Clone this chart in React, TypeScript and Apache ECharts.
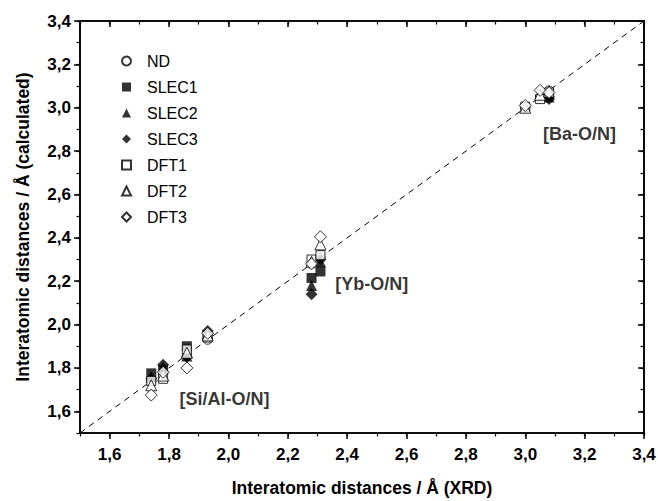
import React, { useEffect, useRef } from "react";
import * as echarts from "echarts";

// Experimental (XRD) distances on x, calculated / measured on y, per method
const ndData: number[][] = [
  [1.74, 1.74], [1.78, 1.78], [1.86, 1.86], [1.93, 1.93],
  [2.28, 2.28], [2.31, 2.31],
  [3.0, 3.0], [3.05, 3.05], [3.08, 3.08],
];
const slec1Data: number[][] = [
  [1.74, 1.775], [1.78, 1.79], [1.86, 1.9], [1.93, 1.95],
  [2.28, 2.215], [2.31, 2.245],
  [3.08, 3.06],
];
const slec2Data: number[][] = [
  [1.74, 1.76], [1.78, 1.805], [1.86, 1.855], [1.93, 1.96],
  [2.28, 2.18], [2.31, 2.29],
  [3.08, 3.05],
];
const slec3Data: number[][] = [
  [1.74, 1.75], [1.78, 1.815], [1.86, 1.85], [1.93, 1.97],
  [2.28, 2.14], [2.31, 2.3],
  [3.08, 3.04],
];
const dft1Data: number[][] = [
  [1.74, 1.74], [1.78, 1.75], [1.86, 1.885], [1.93, 1.94],
  [2.28, 2.3], [2.31, 2.32],
  [3.0, 3.005], [3.05, 3.04], [3.08, 3.07],
];
const dft2Data: number[][] = [
  [1.74, 1.72], [1.78, 1.765], [1.86, 1.87], [1.93, 1.95],
  [2.28, 2.29], [2.31, 2.37],
  [3.0, 3.0], [3.05, 3.06], [3.08, 3.075],
];
const dft3Data: number[][] = [
  [1.74, 1.675], [1.78, 1.78], [1.86, 1.8], [1.93, 1.96],
  [2.28, 2.28], [2.31, 2.405],
  [3.0, 3.01], [3.05, 3.08], [3.08, 3.07],
];

// Bond-type annotations placed in data coordinates
const groupLabels: string[] = ["[Si/Al-O/N]", "[Yb-O/N]", "[Ba-O/N]"];
const groupLabelPos: number[][] = [[1.835, 1.655], [2.36, 2.185], [3.06, 2.88]];

const axisMin = 1.5;
const axisMax = 3.4;
const majorTicks: number[] = [1.6, 1.8, 2.0, 2.2, 2.4, 2.6, 2.8, 3.0, 3.2, 3.4];
const identityLine: number[][] = [[axisMin, axisMin], [axisMax, axisMax]];

const FONT = "'Liberation Sans', Arial, Helvetica, sans-serif";
const fmt = (v: number) => v.toFixed(1).replace(".", ",");

const filled = { color: "#000", borderColor: "#000", borderWidth: 0 };
const open = { color: "#fff", borderColor: "#000", borderWidth: 1 };

export default function App() {
  const ref = useRef<HTMLDivElement>(null);

  useEffect(() => {
    if (!ref.current) return;
    const chart = echarts.init(ref.current, undefined, { renderer: "svg" });

    const gridRect = {
      left: 80,
      right: 14,
      top: 21,
      bottom: 68,
      containLabel: false,
      outerBoundsMode: "none",
    };
    const axisLine = () => ({ show: true, onZero: false, lineStyle: { color: "#000", width: 1.6 } });

    const majorAxis = (position: "bottom" | "top" | "left" | "right", withLabels: boolean, name?: string) => ({
      type: "value",
      gridIndex: 0,
      position,
      min: axisMin,
      max: axisMax,
      splitLine: { show: false },
      axisLine: axisLine(),
      axisTick: {
        show: true,
        inside: !withLabels,
        length: 6,
        customValues: majorTicks,
        lineStyle: { color: "#000", width: 1.5 },
      },
      axisLabel: {
        show: withLabels,
        customValues: majorTicks,
        formatter: (v: number) => fmt(v),
        color: "#000",
        fontFamily: FONT,
        fontWeight: "bold",
        fontSize: 17,
        margin: position === "left" ? 9 : 13,
      },
      name: name || "",
      nameLocation: "middle",
      nameGap: position === "left" ? 48 : 46,
      nameTextStyle: {
        color: "#000",
        fontFamily: FONT,
        fontWeight: "bold",
        fontSize: 17.5,
      },
    });

    const minorAxis = (position: "bottom" | "top" | "left" | "right", inside: boolean) => ({
      type: "value",
      gridIndex: 1,
      position,
      min: axisMin,
      max: axisMax,
      interval: 0.1,
      splitLine: { show: false },
      axisLine: { show: false, onZero: false },
      axisTick: { show: true, inside, length: 3.5, lineStyle: { color: "#000", width: 1.2 } },
      axisLabel: { show: false },
    });

    const scatter = (name: string, symbol: string, size: number, style: any, data: number[][]) => ({
      name,
      type: "scatter",
      symbol,
      symbolSize: size,
      itemStyle: style,
      data,
      z: 3,
    });

    chart.setOption({
      animation: false,
      backgroundColor: "#fff",
      grid: [
        { ...gridRect, show: true, borderColor: "#000", borderWidth: 1.6, backgroundColor: "transparent" },
        { ...gridRect },
      ],
      xAxis: [
        majorAxis("bottom", true, "Interatomic distances / Å (XRD)"),
        majorAxis("top", false),
        minorAxis("bottom", false),
        minorAxis("top", true),
      ],
      yAxis: [
        majorAxis("left", true, "Interatomic distances / Å (calculated)"),
        majorAxis("right", false),
        minorAxis("left", false),
        minorAxis("right", true),
      ],
      legend: {
        orient: "vertical",
        left: 116,
        top: 48,
        itemWidth: 9,
        itemHeight: 9,
        itemGap: 10,
        textStyle: {
          color: "#000",
          fontFamily: FONT,
          fontSize: 16,
          padding: [0, 0, 0, 11],
        },
        data: ["ND", "SLEC1", "SLEC2", "SLEC3", "DFT1", "DFT2", "DFT3"],
      },
      series: [
        {
          name: "identity",
          type: "line",
          data: identityLine,
          showSymbol: false,
          symbol: "none",
          silent: true,
          lineStyle: { color: "#000", width: 1, type: [6, 5] },
          z: 1,
        },
        scatter("ND", "circle", 9, open, ndData),
        scatter("SLEC1", "rect", 10, filled, slec1Data),
        scatter("SLEC2", "triangle", 11, filled, slec2Data),
        scatter("SLEC3", "diamond", 12, filled, slec3Data),
        scatter("DFT1", "rect", 9, open, dft1Data),
        scatter("DFT2", "triangle", 11, open, dft2Data),
        scatter("DFT3", "diamond", 12, open, dft3Data),
        {
          name: "groups",
          type: "scatter",
          symbolSize: 0,
          silent: true,
          data: groupLabels.map((g, i) => ({ name: g, value: groupLabelPos[i] })),
          label: {
            show: true,
            position: "right",
            distance: 0,
            formatter: (p: any) => p.name,
            color: "#000",
            fontFamily: FONT,
            fontWeight: "bold",
            fontSize: 18,
          },
          z: 4,
        },
      ],
    });

    return () => chart.dispose();
  }, []);

  return (
    <div
      ref={ref}
      style={{ position: "fixed", left: 0, top: 0, width: 658, height: 501, background: "#fff" }}
    />
  );
}
